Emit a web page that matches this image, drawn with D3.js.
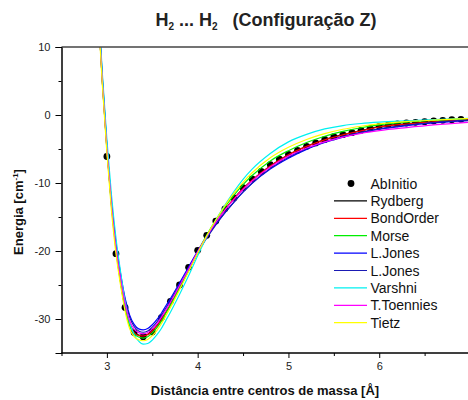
<!DOCTYPE html>
<html>
<head>
<meta charset="utf-8">
<script src="https://cdn.jsdelivr.net/npm/d3@7"></script>
<style>
  html, body { margin: 0; padding: 0; background: #fff; }
  svg { display: block; font-family: "Liberation Sans", Arial, sans-serif; }
</style>
</head>
<body>
<svg id="chart" width="468" height="400"></svg>
<script>
// ---------- data ----------
const seriesNames = ["Rydberg", "BondOrder", "Morse", "L.Jones", "L.Jones", "Varshni", "T.Toennies", "Tietz"];
const seriesColors = ["#000000", "#ff0000", "#00ee00", "#0000ff", "#1a1ab4", "#00f0f0", "#ff00ff", "#ffff00"];

// Ab initio points
const abR = [3.0,3.1,3.2,3.3,3.4,3.5,3.6,3.7,3.8,3.9,4.0,4.1,4.2,4.3,4.4,4.5,4.6,4.7,4.8,4.9,5.0,5.1,5.2,5.3,5.4,5.5,5.6,5.7,5.8,5.9,6.0,6.1,6.2,6.3,6.4,6.5,6.6,6.7,6.8,6.9];
const abE = [-6.1,-20.4,-28.3,-32.0,-32.6,-31.9,-29.8,-27.4,-25.0,-22.4,-19.9,-17.7,-15.6,-13.8,-12.2,-10.7,-9.4,-8.3,-7.3,-6.5,-5.8,-5.2,-4.6,-4.1,-3.6,-3.2,-2.9,-2.6,-2.25,-1.96,-1.66,-1.45,-1.3,-1.18,-1.08,-0.98,-0.88,-0.78,-0.7,-0.64];

// common distance grid for fitted curves
const fitR = [2.9,2.95,3.0,3.05,3.1,3.15,3.2,3.25,3.3,3.35,3.4,3.45,3.5,3.55,3.6,3.65,3.7,3.8,3.9,4.0,4.1,4.2,4.3,4.4,4.5,4.6,4.8,5.0,5.2,5.4,5.6,5.8,6.0,6.3,6.6,7.0];

const rydberg   = [16.5,5.0,-4.8,-13.0,-19.4,-24.4,-28.3,-30.7,-31.9,-32.35,-32.45,-32.25,-31.7,-31.0,-30.1,-29.0,-27.9,-25.4,-22.85,-20.3,-17.95,-15.85,-13.95,-12.3,-10.85,-9.6,-7.5,-5.85,-4.6,-3.62,-2.9,-2.3,-1.72,-1.3,-0.97,-0.66];
const bondOrder = [16.5,4.9,-4.9,-13.1,-19.5,-24.5,-28.4,-30.8,-32.0,-32.45,-32.5,-32.3,-31.75,-31.05,-30.15,-29.05,-27.95,-25.45,-22.85,-20.3,-17.95,-15.85,-13.95,-12.3,-10.85,-9.6,-7.5,-5.85,-4.62,-3.65,-2.92,-2.33,-1.76,-1.33,-1.0,-0.7];
const morse     = [16.5,4.8,-5.1,-13.4,-19.8,-24.6,-28.4,-31.0,-32.2,-32.65,-32.8,-32.6,-32.05,-31.3,-30.35,-29.15,-28.0,-25.5,-22.85,-20.1,-17.65,-15.45,-13.55,-11.8,-10.25,-8.9,-6.75,-5.25,-4.05,-3.12,-2.42,-1.87,-1.45,-1.05,-0.78,-0.5];
const ljones1   = [17.5,5.6,-4.4,-12.7,-18.8,-23.3,-26.9,-29.4,-30.8,-31.45,-31.6,-31.4,-30.85,-30.1,-29.15,-28.05,-27.0,-24.7,-22.35,-20.0,-17.95,-16.05,-14.35,-12.8,-11.35,-10.05,-7.95,-6.35,-5.05,-4.05,-3.25,-2.6,-2.1,-1.55,-1.15,-0.8];
const ljones2   = [17,5.3,-4.6,-12.9,-19.1,-23.6,-27.2,-29.7,-31.1,-31.75,-31.95,-31.75,-31.2,-30.45,-29.5,-28.4,-27.3,-25.0,-22.65,-20.2,-18.1,-16.15,-14.4,-12.8,-11.3,-10.0,-7.85,-6.2,-4.95,-3.95,-3.15,-2.55,-2.05,-1.5,-1.1,-0.78];
const varshni   = [18,6.1,-3.6,-11.7,-18.1,-23.0,-27.3,-30.5,-32.3,-33.25,-33.7,-33.6,-33.1,-32.35,-31.4,-30.2,-29.0,-26.4,-23.65,-20.7,-17.95,-15.45,-13.25,-11.25,-9.45,-7.95,-5.65,-3.95,-2.85,-2.05,-1.55,-1.25,-1.05,-0.85,-0.68,-0.5];
const toennies  = [16.5,4.9,-5.0,-13.2,-19.5,-24.0,-27.7,-30.2,-31.5,-32.0,-32.2,-32.0,-31.45,-30.7,-29.75,-28.65,-27.55,-25.1,-22.65,-20.1,-17.85,-15.8,-14.0,-12.4,-10.95,-9.7,-7.65,-6.05,-4.85,-3.95,-3.25,-2.7,-2.3,-1.85,-1.45,-1.05];
const tietz     = [16,4.4,-5.6,-14.0,-20.4,-25.0,-28.8,-31.4,-32.6,-33.05,-33.2,-33.0,-32.45,-31.7,-30.7,-29.5,-28.3,-25.7,-23.05,-20.3,-17.75,-15.45,-13.35,-11.5,-9.9,-8.5,-6.3,-4.75,-3.6,-2.75,-2.1,-1.65,-1.3,-0.98,-0.75,-0.5];

const fitSeries = [rydberg, bondOrder, morse, ljones1, ljones2, varshni, toennies, tietz];

const xMajor = [3, 4, 5, 6];
const xMinor = [2.5, 3.5, 4.5, 5.5, 6.5];
const yMajor = [10, 0, -10, -20, -30];
const yMinor = [5, -5, -15, -25, -35];

// ---------- drawing ----------
const svg = d3.select("#chart");
const L = 61.5, R = 470, T = 47, B = 353;
const x = d3.scaleLinear().domain([2.5, 7]).range([L, R]);
const y = d3.scaleLinear().domain([-35, 10]).range([B, T]);

svg.append("defs").append("clipPath").attr("id", "clip")
  .append("rect").attr("x", L).attr("y", T).attr("width", R - L).attr("height", B - T);

// title
const title = svg.append("text").attr("x", 266).attr("y", 26).attr("text-anchor", "middle")
  .attr("font-size", 18).attr("font-weight", "bold").attr("fill", "#222")
  .attr("xml:space", "preserve");
title.append("tspan").text("H");
title.append("tspan").attr("font-size", 10).attr("dy", 4).text("2");
title.append("tspan").attr("dy", -4).text(" ... H");
title.append("tspan").attr("font-size", 10).attr("dy", 4).text("2");
title.append("tspan").attr("dy", -4).text("\u00a0\u00a0\u00a0(Configuração Z)");

// data dots (drawn first, lines on top)
const plot = svg.append("g").attr("clip-path", "url(#clip)");
plot.append("g").selectAll("circle").data(abR).join("circle")
  .attr("cx", d => x(d)).attr("cy", (d, i) => y(abE[i])).attr("r", 3.4).attr("fill", "#000");

const line = d3.line().x(d => x(d[0])).y(d => y(d[1])).curve(d3.curveMonotoneX);
fitSeries.forEach((s, k) => {
  plot.append("path").datum(fitR.map((r, i) => [r, s[i]]))
    .attr("d", line).attr("fill", "none").attr("stroke", seriesColors[k]).attr("stroke-width", 1.2);
});

// frame top
svg.append("line").attr("x1", L).attr("x2", 468).attr("y1", T).attr("y2", T).attr("stroke", "#444").attr("stroke-width", 1.5);

// axes
const gx = svg.append("g").attr("transform", `translate(0,${B})`);
gx.call(d3.axisBottom(x).tickValues(xMajor).tickSize(5).tickPadding(4).tickFormat(d => String(d)));
gx.append("g").call(d3.axisBottom(x).tickValues(xMinor).tickSize(3).tickFormat(""));
const gy = svg.append("g").attr("transform", `translate(${L},0)`);
gy.call(d3.axisLeft(y).tickValues(yMajor).tickSize(6).tickPadding(5).tickFormat(d => String(d)));
gy.append("g").call(d3.axisLeft(y).tickValues(yMinor).tickSize(3).tickFormat(""));
svg.selectAll(".domain").attr("stroke", "#000");
svg.selectAll(".tick text").attr("font-size", 11).attr("font-family", "Liberation Sans, Arial, sans-serif").attr("fill", "#222");
gx.selectAll(".domain").attr("d", `M${L},0H468`);

// axis labels
svg.append("text").attr("x", 265).attr("y", 395).attr("text-anchor", "middle")
  .attr("font-size", 13).attr("font-weight", "bold").attr("fill", "#111")
  .text("Distância entre centros de massa [Å]");
const yl = svg.append("text").attr("transform", "translate(23,212) rotate(-90)").attr("text-anchor", "middle")
  .attr("font-size", 13).attr("font-weight", "bold").attr("fill", "#111");
yl.append("tspan").text("Energia [cm");
yl.append("tspan").attr("font-size", 8).attr("dy", -5).text("-1");
yl.append("tspan").attr("dy", 5).text("]");

// legend
const legendNames = ["AbInitio"].concat(seriesNames);
const lg = svg.append("g");
legendNames.forEach((name, i) => {
  const cy = 183.5 + i * 17.4;
  if (i === 0) {
    lg.append("circle").attr("cx", 351).attr("cy", cy).attr("r", 3.4).attr("fill", "#000");
  } else {
    lg.append("line").attr("x1", 334).attr("x2", 367).attr("y1", cy).attr("y2", cy)
      .attr("stroke", seriesColors[i - 1]).attr("stroke-width", 1.2);
  }
  lg.append("text").attr("x", 370.5).attr("y", cy + 5).attr("font-size", 14).attr("fill", "#111").text(name);
});
</script>
</body>
</html>
